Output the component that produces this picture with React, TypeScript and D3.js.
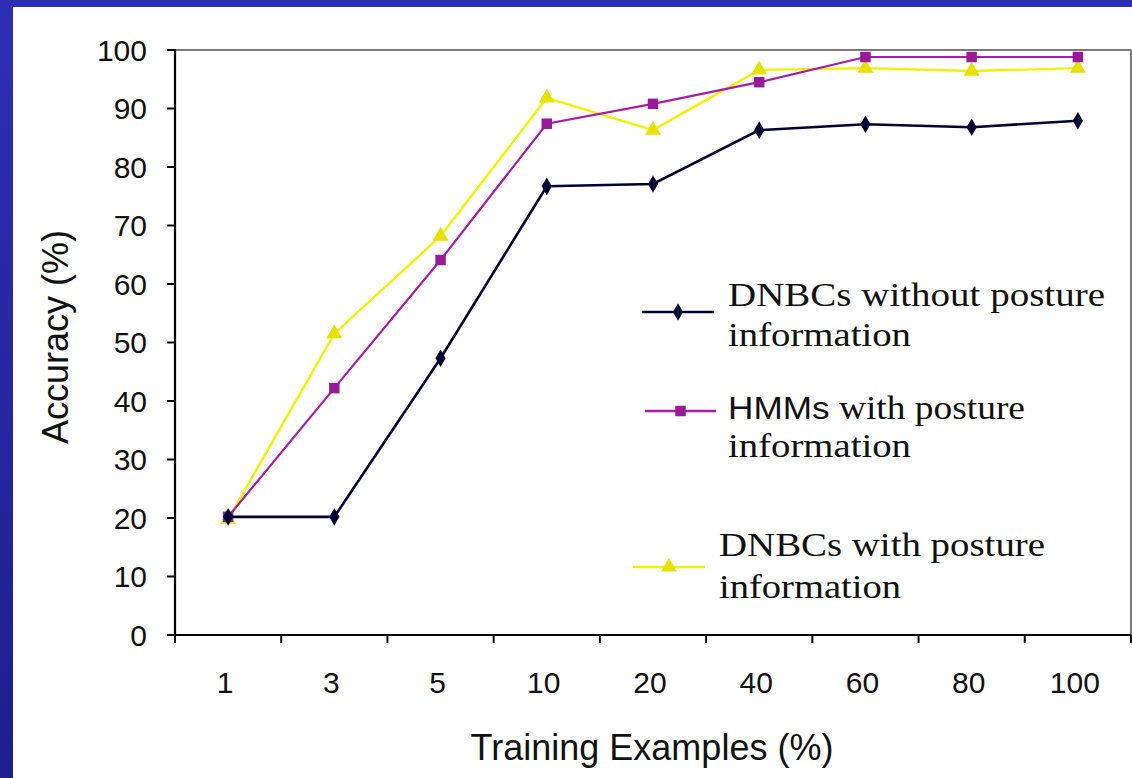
import React from 'react';
import * as d3 from 'd3';

const categories = ['1', '3', '5', '10', '20', '40', '60', '80', '100'];
const dnbcWithout = [20.2, 20.2, 47.3, 76.7, 77.1, 86.3, 87.3, 86.8, 87.9];
const hmmWith = [20.2, 42.2, 64.1, 87.4, 90.8, 94.5, 98.8, 98.8, 98.8];
const dnbcWith = [19.8, 51.5, 68.2, 91.8, 86.3, 96.6, 96.9, 96.4, 96.9];
const yTicks = [0, 10, 20, 30, 40, 50, 60, 70, 80, 90, 100];
const legendLines = [
  ['DNBCs without posture', 'information'],
  ['HMMs with posture', 'information'],
  ['DNBCs with posture', 'information'],
];

const W = 1132;
const H = 778;
const M = { left: 175, right: 1131, top: 50, bottom: 635 };

const SANS = '"Liberation Sans", Arial, sans-serif';
const SERIF = '"Liberation Serif", "Times New Roman", serif';

export default function App() {
  const x = d3.scaleBand<string>().domain(categories).range([M.left, M.right]).padding(0);
  const y = d3.scaleLinear().domain([0, 100]).range([M.bottom, M.top]);
  const cx = (c: string) => (x(c) as number) + x.bandwidth() / 2;

  const line = d3
    .line<number>()
    .x((_, i) => cx(categories[i]))
    .y((d) => y(d));

  const series = [
    { values: dnbcWithout, line: '#000033', marker: '#000033', width: 2.6, shape: 'diamond' },
    { values: hmmWith, line: '#a81ca8', marker: '#991a99', width: 2.2, shape: 'square' },
    { values: dnbcWith, line: '#f2f200', marker: '#e8e000', width: 2.4, shape: 'triangle' },
  ];

  const diamond = d3.symbol().type(d3.symbolDiamond).size(90)() as string;
  const square = d3.symbol().type(d3.symbolSquare).size(110)() as string;
  const triangle = d3.symbol().type(d3.symbolTriangle).size(110)() as string;
  const shapeOf = (s: string) => (s === 'diamond' ? diamond : s === 'square' ? square : triangle);

  const boundaries = categories.map((c) => x(c) as number).concat([M.right]);

  const legend = [
    { y: 312, x1: 642, x2: 714, tx: 728, b1: 306, b2: 346, w1: 377, w2: 183 },
    { y: 411, x1: 645, x2: 716, tx: 728, b1: 419, b2: 457, w1: 297, w2: 183 },
    { y: 567, x1: 633, x2: 705, tx: 719, b1: 556, b2: 598, w1: 326, w2: 182 },
  ];

  return (
    <svg
      width={W}
      height={H}
      style={{ position: 'absolute', left: 0, top: 0, display: 'block' }}
    >
      <defs>
        <linearGradient id="bg" x1="0" y1="0" x2="0" y2="1">
          <stop offset="0" stopColor="#2e2eb4" />
          <stop offset="1" stopColor="#1e1e8e" />
        </linearGradient>
      </defs>
      <rect x={0} y={0} width={W} height={H} fill="url(#bg)" />
      <rect x={13} y={7} width={W - 13} height={H - 7} fill="#ffffff" />

      {/* frame */}
      <line x1={M.left} x2={M.right} y1={M.top} y2={M.top} stroke="#7a7a7a" strokeWidth={2} />
      <line x1={M.right} x2={M.right} y1={M.top} y2={M.bottom} stroke="#7a7a7a" strokeWidth={2} />

      {/* y axis */}
      <line x1={M.left} x2={M.left} y1={M.top - 1} y2={M.bottom + 1} stroke="#000" strokeWidth={2.2} />
      {yTicks.map((t) => (
        <g key={t}>
          <line x1={M.left - 8} x2={M.left} y1={y(t)} y2={y(t)} stroke="#000" strokeWidth={2} />
          <text x={147} y={y(t) + 10.5} textAnchor="end" fontFamily={SANS} fontSize={30} fill="#111">
            {t}
          </text>
        </g>
      ))}

      {/* x axis */}
      <line x1={M.left - 8} x2={M.right} y1={M.bottom} y2={M.bottom} stroke="#000" strokeWidth={2.2} />
      {boundaries.map((b, i) => (
        <line key={i} x1={b} x2={b} y1={M.bottom} y2={M.bottom + 8} stroke="#000" strokeWidth={2} />
      ))}
      {categories.map((c) => (
        <text key={c} x={cx(c) - 3} y={693} textAnchor="middle" fontFamily={SANS} fontSize={30} fill="#111">
          {c}
        </text>
      ))}

      <text x={652} y={760} textAnchor="middle" fontFamily={SANS} fontSize={36} fill="#111">
        Training Examples (%)
      </text>
      <text
        transform="translate(68,337) rotate(-90)"
        textAnchor="middle"
        fontFamily={SANS}
        fontSize={36}
        fill="#111"
      >
        Accuracy (%)
      </text>

      {/* series */}
      {series
        .slice()
        .reverse()
        .map((s, k) => (
          <g key={k}>
            <path d={line(s.values) as string} fill="none" stroke={s.line} strokeWidth={s.width} />
            {s.values.map((v, i) => (
              <path
                key={i}
                d={shapeOf(s.shape)}
                transform={`translate(${cx(categories[i])},${y(v)})`}
                fill={s.marker}
              />
            ))}
          </g>
        ))}

      {/* legend */}
      {legend.map((l, i) => (
        <g key={i}>
          <line x1={l.x1} x2={l.x2} y1={l.y} y2={l.y} stroke={series[i].line} strokeWidth={2.4} />
          <path
            d={shapeOf(series[i].shape)}
            transform={`translate(${(l.x1 + l.x2) / 2},${l.y})`}
            fill={series[i].marker}
          />
          <text
            x={l.tx}
            y={l.b1}
            fontFamily={SERIF}
            fontSize={33}
            fill="#111"
            textLength={l.w1}
            lengthAdjust="spacingAndGlyphs"
          >
            {i === 1 ? (
              <>
                <tspan fontFamily={SANS} fontSize={31}>HMMs</tspan>
                <tspan>{' with posture'}</tspan>
              </>
            ) : (
              legendLines[i][0]
            )}
          </text>
          <text
            x={l.tx}
            y={l.b2}
            fontFamily={SERIF}
            fontSize={33}
            fill="#111"
            textLength={l.w2}
            lengthAdjust="spacingAndGlyphs"
          >
            {legendLines[i][1]}
          </text>
        </g>
      ))}
    </svg>
  );
}
